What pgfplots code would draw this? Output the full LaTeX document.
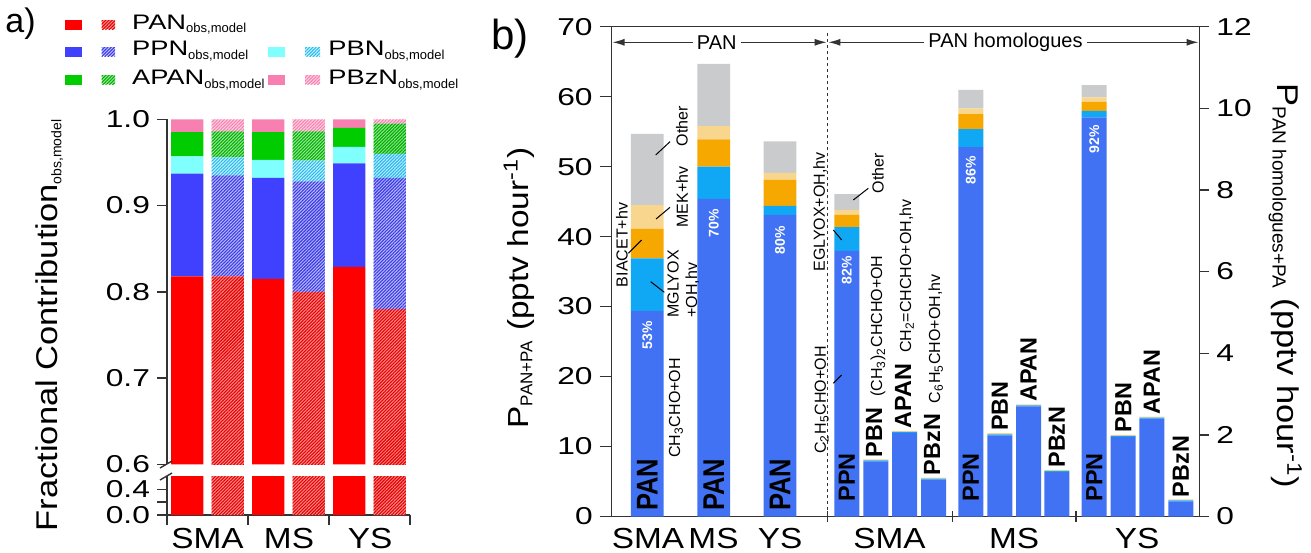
\documentclass[border=0pt]{standalone}
\usepackage{fontspec}
\setmainfont{Liberation Sans}
\newfontfamily\tickfont{Liberation Sans}[FakeStretch=1.3]
\newfontfamily\labfont{Liberation Sans}[FakeStretch=1.15]
\newfontfamily\narrowfont{Liberation Sans}[FakeStretch=0.85]
\usepackage{pgfplots}
\usepackage{pgfplotstable}
\pgfplotsset{compat=1.18}
\usetikzlibrary{patterns.meta,arrows.meta}

\definecolor{ared}{HTML}{FF0000}
\definecolor{ablue}{HTML}{4040FF}
\definecolor{acyan}{HTML}{80FFFF}
\definecolor{acyanl}{HTML}{38B0F0}
\definecolor{agreen}{HTML}{00CC00}
\definecolor{apink}{HTML}{F880B0}
\definecolor{pblue}{HTML}{4272F4}
\definecolor{pcyan}{HTML}{10A8F5}
\definecolor{porange}{HTML}{F7A800}
\definecolor{plorange}{HTML}{F9D68E}
\definecolor{pgray}{HTML}{C9CBCC}
\definecolor{axcol}{HTML}{333333}

\newcommand\fs[1]{\fontsize{#1}{#1}\selectfont}
\newcommand\sub[2]{\textsubscript{\normalfont\fs{#1}#2}}

\tikzset{hatch/.style 2 args={fill=#1, postaction={pattern={Lines[angle=45,distance=1.15pt,line width=0.55pt]}, pattern color=#2}}}

\pgfplotsset{
  /pgf/number format/assume math mode=true,
  every tick label/.append style={font=\tickfont\fs{12.2}},
  every tick/.append style={line width=0.7pt, axcol},
  mybase/.style={scale only axis, anchor=south west, axis line style={-, line width=0.7pt, axcol}, tick align=outside},
}

% ---------- data ----------
% panel a: fractional contributions (observed, model), zero where the bar belongs to the other set
\pgfplotstableread{
x pan ppn pbn apan pbzn
1 0.818 0.119 0.020 0.028 0.015
2 0 0 0 0 0
3 0.815 0.117 0.021 0.032 0.015
4 0 0 0 0 0
5 0.829 0.120 0.019 0.022 0.010
6 0 0 0 0 0
}\aobs
\pgfplotstableread{
x pan ppn pbn apan pbzn
1 0 0 0 0 0
2 0.818 0.117 0.021 0.030 0.014
3 0 0 0 0 0
4 0.800 0.128 0.024 0.034 0.014
5 0 0 0 0 0
6 0.780 0.152 0.028 0.035 0.005
}\amod
% panel b: PAN production (left axis)
\pgfplotstableread{
x blue cyan orange lorange gray
647.3 29.4 7.5 4.2 3.4 10.2
713.7 45.4 4.6 3.9 1.9 8.9
780.0 43.1 1.3 3.7 1.0 4.5
}\bpan
% panel b: PAN homologues production (right axis)
\pgfplotstableread{
x blue cyan orange lorange gray
846.8 6.51 0.58 0.30 0.12 0.39
875.8 1.35 0.025 0 0.025 0
904.5 2.05 0.025 0 0.025 0
933.5 0.905 0.025 0 0.025 0
970.8 9.05 0.44 0.37 0.14 0.45
999.8 1.99 0.025 0 0.025 0
1028.5 2.70 0.025 0 0.025 0
1056.8 1.09 0.025 0 0.025 0
1094.2 9.78 0.16 0.22 0.11 0.30
1123.2 1.95 0.025 0 0.025 0
1151.8 2.40 0.025 0 0.025 0
1180.8 0.37 0.025 0 0.025 0
}\bhom

\begin{document}
\begin{tikzpicture}
% ---------- panel a, upper part ----------
\begin{axis}[mybase,
  at={(83.5pt,43.75pt)}, width=121.5pt, height=172.6pt,
  xmin=0.5, xmax=6.5, ymin=0.6, ymax=1.0,
  ybar stacked, bar width=0.8,
  axis x line=none, axis y line*=left,
  ytick={0.6,0.7,0.8,0.9,1.0}, yticklabels={0.6,0.7,0.8,0.9,1.0},
  major tick length=5pt,
]
\addplot[fill=ared, draw=none] table[x=x,y=pan]{\aobs};
\addplot[hatch={ared!45!white}{ared!90!black}, draw=none] table[x=x,y=pan]{\amod};
\addplot[fill=ablue, draw=none] table[x=x,y=ppn]{\aobs};
\addplot[hatch={ablue!35!white}{ablue!90!black}, draw=none] table[x=x,y=ppn]{\amod};
\addplot[fill=acyan, draw=none] table[x=x,y=pbn]{\aobs};
\addplot[hatch={acyan!55!white}{acyanl}, draw=none] table[x=x,y=pbn]{\amod};
\addplot[fill=agreen, draw=none] table[x=x,y=apan]{\aobs};
\addplot[hatch={agreen!40!white}{agreen!85!black}, draw=none] table[x=x,y=apan]{\amod};
\addplot[fill=apink, draw=none] table[x=x,y=pbzn]{\aobs};
\addplot[hatch={apink!35!white}{apink}, draw=none] table[x=x,y=pbzn]{\amod};
\end{axis}
% ---------- panel a, lower part ----------
\begin{axis}[mybase,
  at={(83.5pt,18.5pt)}, width=121.5pt, height=19.25pt,
  xmin=0.5, xmax=6.5, ymin=0, ymax=0.6,
  ybar stacked, bar width=0.8,
  axis x line*=bottom, axis y line*=left,
  ytick={0,0.2,0.4}, yticklabels={0.0,,0.4},
  xtick={0.5,2.5,4.5,6.5}, xticklabels={},
  major tick length=5pt,
]
\addplot[fill=ared, draw=none] table[x=x,y=pan]{\aobs};
\addplot[hatch={ared!45!white}{ared!90!black}, draw=none] table[x=x,y=pan]{\amod};
\end{axis}
% ---------- panel b, left axis ----------
\begin{axis}[mybase,
  at={(305.85pt,17.75pt)}, width=293.8pt, height=244.9pt,
  xmin=611.7, xmax=1199.3, ymin=0, ymax=70,
  ybar stacked, bar width=32.7,
  xtick=\empty, ytick={0,10,...,70}, ytick pos=left,
  major tick length=6pt,
]
\addplot[fill=pblue, draw=none] table[x=x,y=blue]{\bpan};
\addplot[fill=pcyan, draw=none] table[x=x,y=cyan]{\bpan};
\addplot[fill=porange, draw=none] table[x=x,y=orange]{\bpan};
\addplot[fill=plorange, draw=none] table[x=x,y=lorange]{\bpan};
\addplot[fill=pgray, draw=none] table[x=x,y=gray]{\bpan};
\end{axis}
% ---------- panel b, right axis ----------
\begin{axis}[mybase,
  at={(305.85pt,17.75pt)}, width=293.8pt, height=244.9pt,
  xmin=611.7, xmax=1199.3, ymin=0, ymax=12,
  ybar stacked, bar width=25,
  axis x line=none, axis y line*=right,
  ytick={0,2,...,12},
  major tick length=5pt,
]
\addplot[fill=pblue, draw=none] table[x=x,y=blue]{\bhom};
\addplot[fill=pcyan, draw=none] table[x=x,y=cyan]{\bhom};
\addplot[fill=porange, draw=none] table[x=x,y=orange]{\bhom};
\addplot[fill=plorange, draw=none] table[x=x,y=lorange]{\bhom};
\addplot[fill=pgray, draw=none] table[x=x,y=gray]{\bhom};
\end{axis}

% ---------- annotations (pixel grid of the reference) ----------
\begin{scope}[x=0.5pt,y=-0.5pt,shift={(0pt,276pt)}]
\node[anchor=base west, inner sep=0pt, font=\fs{17}] at (5,33) {a)};
\node[anchor=base west, inner sep=0pt, font=\fs{21}] at (491,50) {b)};
% legend
\fill[ared] (65,20) rectangle (81.7,30);
\path[hatch={ared!45!white}{ared!90!black}] (101.7,20.5) rectangle (115,29.5);
\node[anchor=base west, inner sep=0pt, font=\tickfont\fs{10.5}] at (131.7,29.3) {PAN\sub{6.5}{obs,model}};
\fill[ablue] (65,46.7) rectangle (81.7,56.7);
\path[hatch={ablue!35!white}{ablue!90!black}] (101.7,47.2) rectangle (115,56.2);
\node[anchor=base west, inner sep=0pt, font=\tickfont\fs{10.5}] at (131.7,56) {PPN\sub{6.5}{obs,model}};
\fill[acyan] (268,46.7) rectangle (285,56.7);
\path[hatch={acyan!55!white}{acyanl}] (305,47.2) rectangle (320,56.2);
\node[anchor=base west, inner sep=0pt, font=\tickfont\fs{10.5}] at (328,56) {PBN\sub{6.5}{obs,model}};
\fill[agreen] (65,75) rectangle (81.7,85);
\path[hatch={agreen!40!white}{agreen!85!black}] (101.7,75.5) rectangle (115,84.5);
\node[anchor=base west, inner sep=0pt, font=\tickfont\fs{10.5}] at (131.7,85) {APAN\sub{6.5}{obs,model}};
\fill[apink] (268,75) rectangle (285,85);
\path[hatch={apink!35!white}{apink}] (305,75.5) rectangle (320,84.5);
\node[anchor=base west, inner sep=0pt, font=\tickfont\fs{10.5}] at (328,85) {PBzN\sub{6.5}{obs,model}};
% panel a axis decorations
\draw[axcol, line width=0.7pt] (160,468) -- (172,461);
\draw[axcol, line width=0.7pt] (160,480) -- (172,473);
\foreach \xx/\t in {207.5/SMA,289/MS,370/YS}
  \node[anchor=base, inner sep=0pt, font=\labfont\fs{14.5}] at (\xx,548) {\t};
\node[rotate=90, anchor=base, inner sep=0pt, font=\labfont\fs{15}] at (57,325) {Fractional Contribution\sub{7}{obs,model}};
% panel b decorations
\draw[axcol, line width=0.6pt, dash pattern=on 1.5pt off 1.5pt] (827.5,33) -- (827.5,516.5);
\draw[axcol, line width=0.6pt, {Latex[length=6pt,width=3.5pt]}-{Latex[length=6pt,width=3.5pt]}] (612.5,42.3) -- (826.7,42.3);
\node[fill=white, inner sep=2pt, font=\fs{10}] at (716.7,42.3) {PAN};
\draw[axcol, line width=0.6pt, {Latex[length=6pt,width=3.5pt]}-{Latex[length=6pt,width=3.5pt]}] (828.3,42.3) -- (1198.5,42.3);
\node[fill=white, inner sep=2pt, font=\fs{10}] at (1005.5,42.3) {PAN homologues};
\foreach \xx in {827.5,952.3,1076}
  \draw[axcol, line width=0.7pt] (\xx,511) -- (\xx,522);
\foreach \xx/\t in {648/SMA,713.5/MS,780/YS,889.5/SMA,1014/MS,1137/YS}
  \node[anchor=base, inner sep=0pt, font=\labfont\fs{14.5}] at (\xx,548.3) {\t};
\node[rotate=90, anchor=base, inner sep=0pt, font=\labfont\fs{14.5}] at (528,288) {P\sub{8.5}{PAN+PA} (pptv hour\textsuperscript{-1})};
\node[rotate=-90, anchor=base, inner sep=0pt, font=\labfont\fs{15}] at (1277,286) {P\sub{9.5}{PAN homologues+PA} (pptv hour\textsuperscript{-1})};
% PAN bars
\node[rotate=90, font=\fs{8}] at (622,245) {BIACET+hv};
\draw[line width=0.5pt] (628.3,253.3) -- (641.7,240);
\node[rotate=90, anchor=north west, align=left, inner sep=0pt, font=\fontsize{8}{9.3}\selectfont] at (667,318) {MGLYOX\\+OH,hv};
\draw[line width=0.5pt] (650.7,281.7) -- (664.3,292.3);
\node[rotate=90, font=\fs{8}] at (676,408) {CH\textsubscript{3}CHO+OH};
\node[rotate=90, font=\fs{8}] at (682,197) {MEK+hv};
\draw[line width=0.5pt] (656,219) -- (670,207.3);
\node[rotate=90, font=\fs{8}] at (682,126) {Other};
\draw[line width=0.5pt] (655.7,155) -- (670,141.7);
\node[rotate=90, text=white, font=\bfseries\fs{7}] at (647.3,335) {53\%};
\node[rotate=90, text=white, font=\bfseries\fs{7}] at (713.7,223) {70\%};
\node[rotate=90, text=white, font=\bfseries\fs{7}] at (780,240) {80\%};
\foreach \xx in {647.3,713.7,780}
  \node[rotate=90, font=\narrowfont\bfseries\fs{15}] at (\xx,485) {PAN};
% homologue bars
\node[rotate=90, font=\fs{8}] at (821.7,400) {C\textsubscript{2}H\textsubscript{5}CHO+OH};
\draw[line width=0.5pt] (833.3,383.3) -- (841.7,375);
\node[rotate=90, font=\fs{8}] at (820,212) {EGLYOX+OH,hv};
\draw[line width=0.5pt] (833.3,230) -- (841.7,240);
\node[rotate=90, font=\fs{8}] at (878,173) {Other};
\draw[line width=0.5pt] (853.3,200) -- (868.3,188.3);
\node[rotate=90, text=white, font=\bfseries\fs{7}] at (846.8,270) {82\%};
\node[rotate=90, text=white, font=\bfseries\fs{7}] at (970.8,170) {86\%};
\node[rotate=90, text=white, font=\bfseries\fs{7}] at (1094.2,139) {92\%};
\foreach \xx in {846.8,970.8,1094.2}
  \node[rotate=90, font=\bfseries\fs{11.7}] at (\xx,477.5) {PPN};
\tikzset{toplab/.style={rotate=90, anchor=west, inner sep=1pt, font=\bfseries\fs{11.7}}}
\node[toplab] at (875.8,459.4) {PBN {\mdseries\fs{8} (CH\textsubscript{3})\textsubscript{2}CHCHO+OH}};
\node[toplab] at (904.5,430.8) {APAN {\mdseries\fs{8} CH\textsubscript{2}=CHCHO+OH,hv}};
\node[toplab] at (933.5,477.5) {PBzN {\mdseries\fs{8} C\textsubscript{6}H\textsubscript{5}CHO+OH,hv}};
\node[toplab] at (999.8,433.2) {PBN};
\node[toplab] at (1028.5,404.2) {APAN};
\node[toplab] at (1056.8,470.0) {PBzN};
\node[toplab] at (1123.2,434.9) {PBN};
\node[toplab] at (1151.8,416.5) {APAN};
\node[toplab] at (1180.8,499.4) {PBzN};
\end{scope}
\pgfresetboundingbox
\path[use as bounding box] (0,0) rectangle (655.5pt,276pt);
\end{tikzpicture}
\end{document}
